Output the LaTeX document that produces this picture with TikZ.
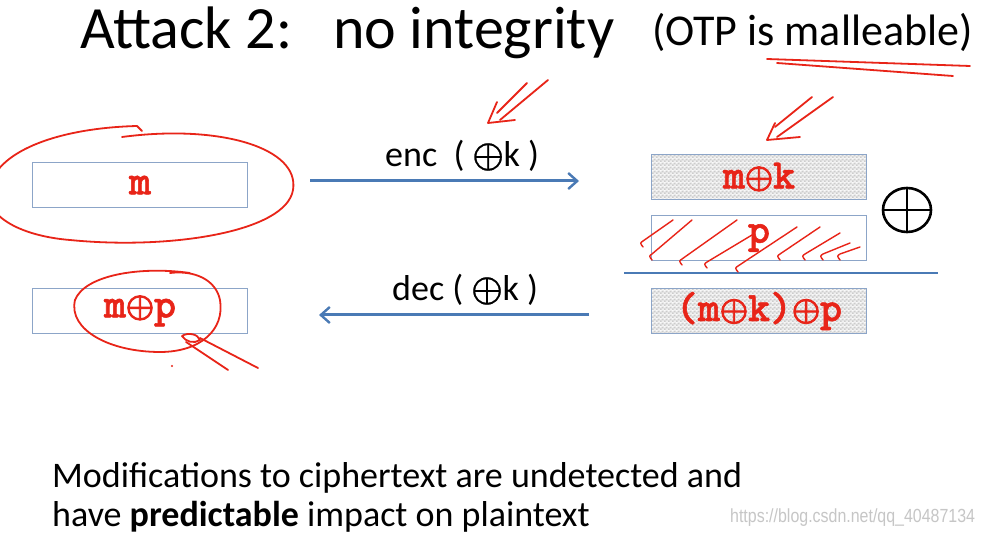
\documentclass[tikz,border=0pt]{standalone}
\usepackage{fontspec}
\setmainfont{Carlito}
\newfontfamily\boxfont{lmmonolt10-bold}[Extension=.otf, FakeBold=1.3]
\newfontfamily\symfont{latinmodern-math}[Extension=.otf, FakeBold=0.6]
\newfontfamily\symfontb{latinmodern-math}[Extension=.otf, FakeBold=2.6]
\newfontfamily\wmfont{Liberation Sans}
\usetikzlibrary{arrows.meta,patterns.meta}
\definecolor{boxblue}{RGB}{140,165,200}
\definecolor{arrowblue}{RGB}{74,122,181}
\definecolor{inkred}{RGB}{232,36,24}
\tikzdeclarepattern{
  name=finechecker,
  type=colored,
  bottom left={(0pt,0pt)},
  top right={(4pt,4pt)},
  tile size={(4pt,4pt)},
  code={
    \fill[gray!12] (0pt,0pt) rectangle (4pt,4pt);
    \fill[gray!40] (0pt,0pt) rectangle (2pt,2pt);
    \fill[gray!40] (2pt,2pt) rectangle (4pt,4pt);
  }
}
\newcommand{\bxo}{\raisebox{0.5pt}{\symfontb\fontsize{36}{36}\selectfont ⊕}}
\newcommand{\lxo}{{\symfont\fontsize{40}{40}\selectfont ⊕}}
\begin{document}
\begin{tikzpicture}[x=1pt,y=-1pt,
  plainbox/.style={draw=boxblue, line width=0.9pt, fill=white, minimum width=215pt, minimum height=45pt, inner sep=0pt,
     text=inkred, font=\boxfont\fontsize{42}{42}\selectfont},
  checkbox/.style={plainbox, pattern=finechecker},
  flow/.style={draw=arrowblue, line width=3pt, -{Straight Barb[length=9pt,width=16pt,line width=2.4pt]}},
  ink/.style={draw=inkred, line width=1.8pt, line cap=round, line join=round},
  lbl/.style={anchor=base west, inner sep=0pt, font=\fontsize{36}{36}\selectfont}
]
\useasboundingbox[fill=white] (0,0) rectangle (983,534);

% title
\node[anchor=base west, inner sep=0pt, font=\fontsize{60}{60}\selectfont] (t1) at (80,49) {Attack 2:};
\node[anchor=base west, inner sep=0pt, font=\fontsize{60}{60}\selectfont] (t2) at (333,49) {no integrity};
\node[anchor=base west, inner sep=0pt, font=\fontsize{44}{44}\selectfont] (t3) at (652,46) {(OTP is malleable)};

% boxes
\node[plainbox] (m) at (140,185) {m};
\node[plainbox] (mp) at (140,311) {m\bxo p};
\node[checkbox] (mk) at (759,177) {m\bxo k};
\node[plainbox] (p) at (759,238) {p};
\node[checkbox] (mkp) at (759,311) {(m\bxo k)\bxo p};
\coordinate (bigx) at (907,210);
\draw[line width=2.6pt] (bigx) ellipse [x radius=24, y radius=22];
\draw[line width=2.6pt] ([yshift=22pt]bigx) -- ([yshift=-22pt]bigx);
\draw[line width=2.6pt] ([xshift=-24pt]bigx) -- ([xshift=24pt]bigx);
\coordinate (bl) at (624,273);
\coordinate (br) at (938,273);
\draw[draw=arrowblue, line width=2.6pt] (bl) -- (br);

% arrows
\coordinate (e1) at (310,181);
\coordinate (e2) at (579,181);
\coordinate (d1) at (589,315);
\coordinate (d2) at (319,315);
\draw[flow] (e1) -- (e2);
\draw[flow] (d1) -- (d2);
\node[lbl] (enc) at (385,167) {enc\ \ ( \lxo k )};
\node[lbl] (dec) at (392,301) {dec ( \lxo k )};

% bottom text
\node[anchor=base west, inner sep=0pt, font=\fontsize{36}{36}\selectfont] (b1) at (52,487) {Modifications to ciphertext are undetected and};
\node[anchor=base west, inner sep=0pt, font=\fontsize{36}{36}\selectfont] (b2) at (52,526) {have \textbf{predictable} impact on plaintext};
\node[anchor=base west, inner sep=0pt, text=gray!45, font=\wmfont\fontsize{19}{19}\selectfont, xscale=0.84] (wm) at (730,522) {https://blog.csdn.net/qq\_40487134};

% handwritten annotations
\draw[ink] (122,137) .. controls (220,124) and (300,148) .. (293,190)
  .. controls (286,232) and (170,250) .. (70,240)
  .. controls (20,236) and (-20,215) .. (-10,185)
  .. controls (0,150) and (60,128) .. (137,126) -- (142,131);
\draw[ink] (190,273) .. controls (140,266) and (85,275) .. (75,300)
  .. controls (68,330) and (110,352) .. (160,352)
  .. controls (200,352) and (225,330) .. (220,300)
  .. controls (216,280) and (195,270) .. (170,273);
\draw[ink] (182,336) .. controls (188,332) and (198,334) .. (200,340) .. controls (194,344) and (186,342) .. (182,336);
\draw[ink] (186,342) -- (228,370);
\draw[ink] (200,338) -- (258,368);
\fill[inkred] (172,366) circle (1.2pt);
% hatching on p
\foreach \a/\b/\c/\d in {643/247/673/220, 652/260/692/220, 682/265/737/220, 707/268/752/235, 738/272/797/227, 780/260/820/227, 805/260/840/233, 823/260/850/243, 840/260/860/247}
  \draw[ink, line width=1.4pt] (\a,\b) .. controls ({\a-3},{\b-4}) .. (\a,{\b-6}) -- (\c,\d);
% underline malleable
\draw[ink] (767,59) -- (970,66);
\draw[ink] (777,63) -- (953,76);
% arrow top right
\draw[ink] (812,97) -- (775,127);
\draw[ink] (833,97) -- (777,137);
\draw[ink] (775,123) -- (767,140) -- (800,137);
% arrow above enc
\draw[ink] (527,83) -- (497,113);
\draw[ink] (548,80) -- (500,120);
\draw[ink] (497,102) -- (488,123) -- (515,120);
\end{tikzpicture}
\end{document}
